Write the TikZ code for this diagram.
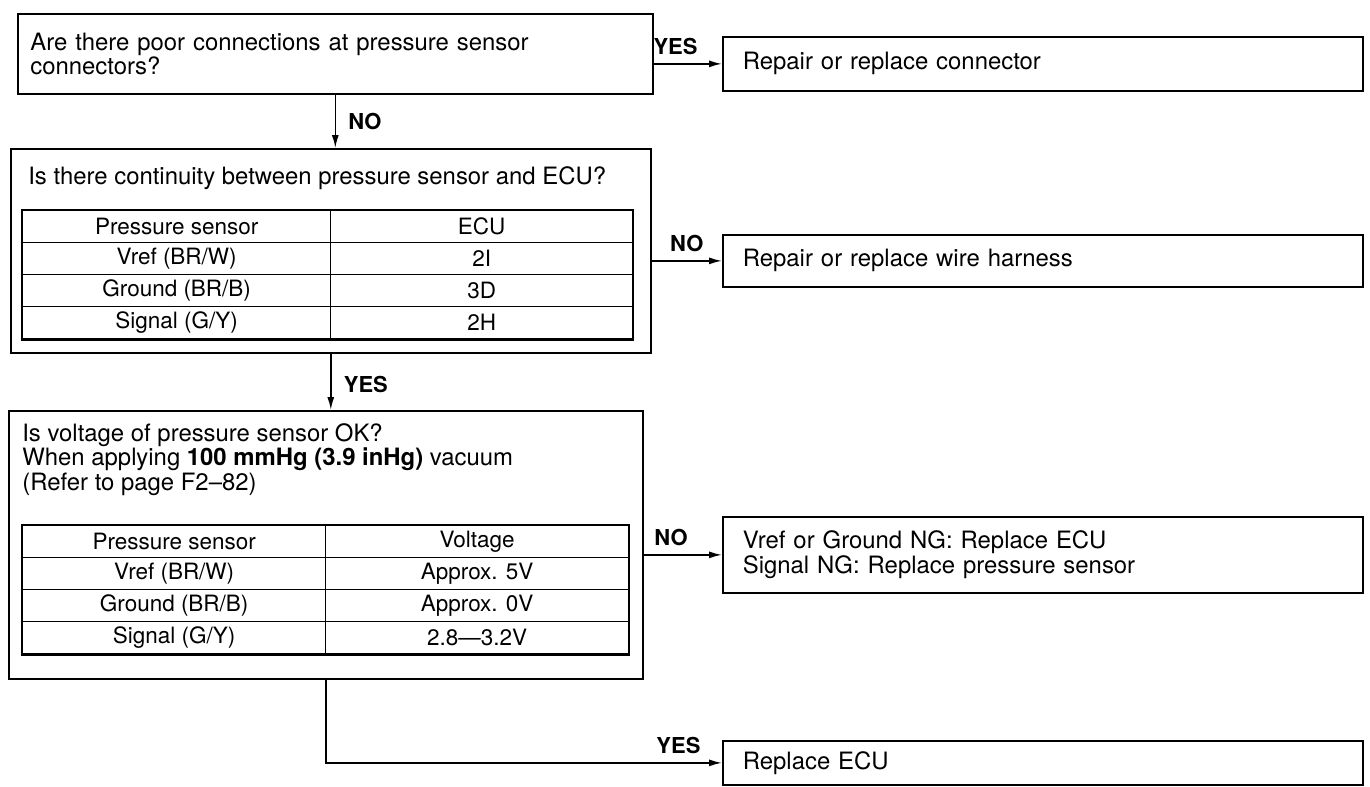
\documentclass[tikz,border=0pt]{standalone}
\usepackage{fontspec}
\setmainfont{TeX Gyre Heros}
\usetikzlibrary{positioning,arrows.meta}

\begin{document}
\begin{tikzpicture}[
  x=0.02cm, y=-0.02cm,
  qbox/.style={draw, line width=1pt, rectangle, anchor=north west,
               inner sep=0pt, font=\fontsize{13.6}{14}\selectfont},
  abox/.style={draw, line width=1pt, rectangle, anchor=north west,
               text width=12.0cm, inner xsep=0.4cm, align=left,
               font=\fontsize{13.6}{14}\selectfont},
  txt/.style={inner sep=0pt, align=left, font=\fontsize{13.6}{14}\selectfont},
  cell/.style={draw, line width=0.8pt, anchor=north west, inner sep=0pt,
               minimum height=0.64cm, font=\fontsize{12.8}{13}\selectfont},
  tframe/.style={line width=1.3pt},
  arr/.style={-{Latex[length=2.6mm,width=1.4mm]}, line width=0.9pt},
  lbl/.style={font=\fontsize{12.5}{13}\selectfont\bfseries, inner sep=1pt}
]
\useasboundingbox (0,0) rectangle (1370,787);

%% ═══════════════════════════════════════════════
%% Questions
%% ═══════════════════════════════════════════════

\node[qbox, minimum width=12.7cm, minimum height=1.6cm,
      text width=12.2cm, inner xsep=0.25cm, align=left] (q_conn) at (17,13)
  {Are there poor connections at pressure sensor\\connectors?};

\node[qbox, minimum width=12.8cm, minimum height=4.08cm] (q_cont) at (10,148) {};
\node[txt, anchor=west] (q_cont_t) at (28,178)
  {Is there continuity between pressure sensor and ECU?};

\node[qbox, minimum width=12.68cm, minimum height=5.36cm] (q_volt) at (8,410) {};
\node[txt, anchor=north west] (q_volt_t) at (22,423)
  {Is voltage of pressure sensor OK?\\
   When applying \textbf{100 mmHg (3.9 inHg)} vacuum\\
   (Refer to page F2--82)};

% continuity table
\node[cell, minimum width=6.16cm] (cont_hl) at (22,210) {Pressure sensor};
\node[cell, minimum width=6.04cm] (cont_hr) at (330,210) {ECU};
\node[cell, minimum width=6.16cm] (cont_1l) at (22,242) {Vref (BR/W)};
\node[cell, minimum width=6.04cm] (cont_1r) at (330,242) {2I};
\node[cell, minimum width=6.16cm] (cont_2l) at (22,274) {Ground (BR/B)};
\node[cell, minimum width=6.04cm] (cont_2r) at (330,274) {3D};
\node[cell, minimum width=6.16cm] (cont_3l) at (22,306) {Signal (G/Y)};
\node[cell, minimum width=6.04cm] (cont_3r) at (330,306) {2H};
\draw[tframe] (cont_hl.north west) rectangle (cont_3r.south east);

% voltage table
\node[cell, minimum width=6.06cm] (volt_hl) at (22,525) {Pressure sensor};
\node[cell, minimum width=6.06cm] (volt_hr) at (325,525) {Voltage};
\node[cell, minimum width=6.06cm] (volt_1l) at (22,557) {Vref (BR/W)};
\node[cell, minimum width=6.06cm] (volt_1r) at (325,557) {Approx. 5V};
\node[cell, minimum width=6.06cm] (volt_2l) at (22,589) {Ground (BR/B)};
\node[cell, minimum width=6.06cm] (volt_2r) at (325,589) {Approx. 0V};
\node[cell, minimum width=6.06cm] (volt_3l) at (22,621) {Signal (G/Y)};
\node[cell, minimum width=6.06cm] (volt_3r) at (325,621) {2.8---3.2V};
\draw[tframe] (volt_hl.north west) rectangle (volt_3r.south east);

%% ═══════════════════════════════════════════════
%% Actions
%% ═══════════════════════════════════════════════

\node[abox, minimum height=1.08cm] (a_conn) at (722,36)  {Repair or replace connector};
\node[abox, minimum height=1.04cm] (a_wire) at (722,234) {Repair or replace wire harness};
\node[abox, minimum height=1.52cm] (a_sens) at (722,516)
  {Vref or Ground NG: Replace ECU\\Signal NG: Replace pressure sensor};
\node[abox, minimum height=0.88cm] (a_ecu)  at (722,740) {Replace ECU};

% edges
\draw[arr] (q_conn.east |- a_conn.west) -- node[lbl,above=4pt,pos=0.32]{YES} (a_conn.west);
\draw[arr] (q_conn.south) -- node[lbl,right=6pt,pos=0.5]{NO} (q_conn.south |- q_cont.north);
\draw[arr] (q_cont.east |- a_wire.west) -- node[lbl,above=4pt,pos=0.5]{NO} (a_wire.west);
\draw[arr] (q_cont.south) -- node[lbl,right=6pt,pos=0.55]{YES} (q_cont.south |- q_volt.north);
\draw[arr] (q_volt.east |- a_sens.west) -- node[lbl,above=4pt,pos=0.35]{NO} (a_sens.west);
\draw[arr] (q_volt.south) |- node[lbl,above=4pt,pos=0.945]{YES} (a_ecu.west);

\end{tikzpicture}
\end{document}
